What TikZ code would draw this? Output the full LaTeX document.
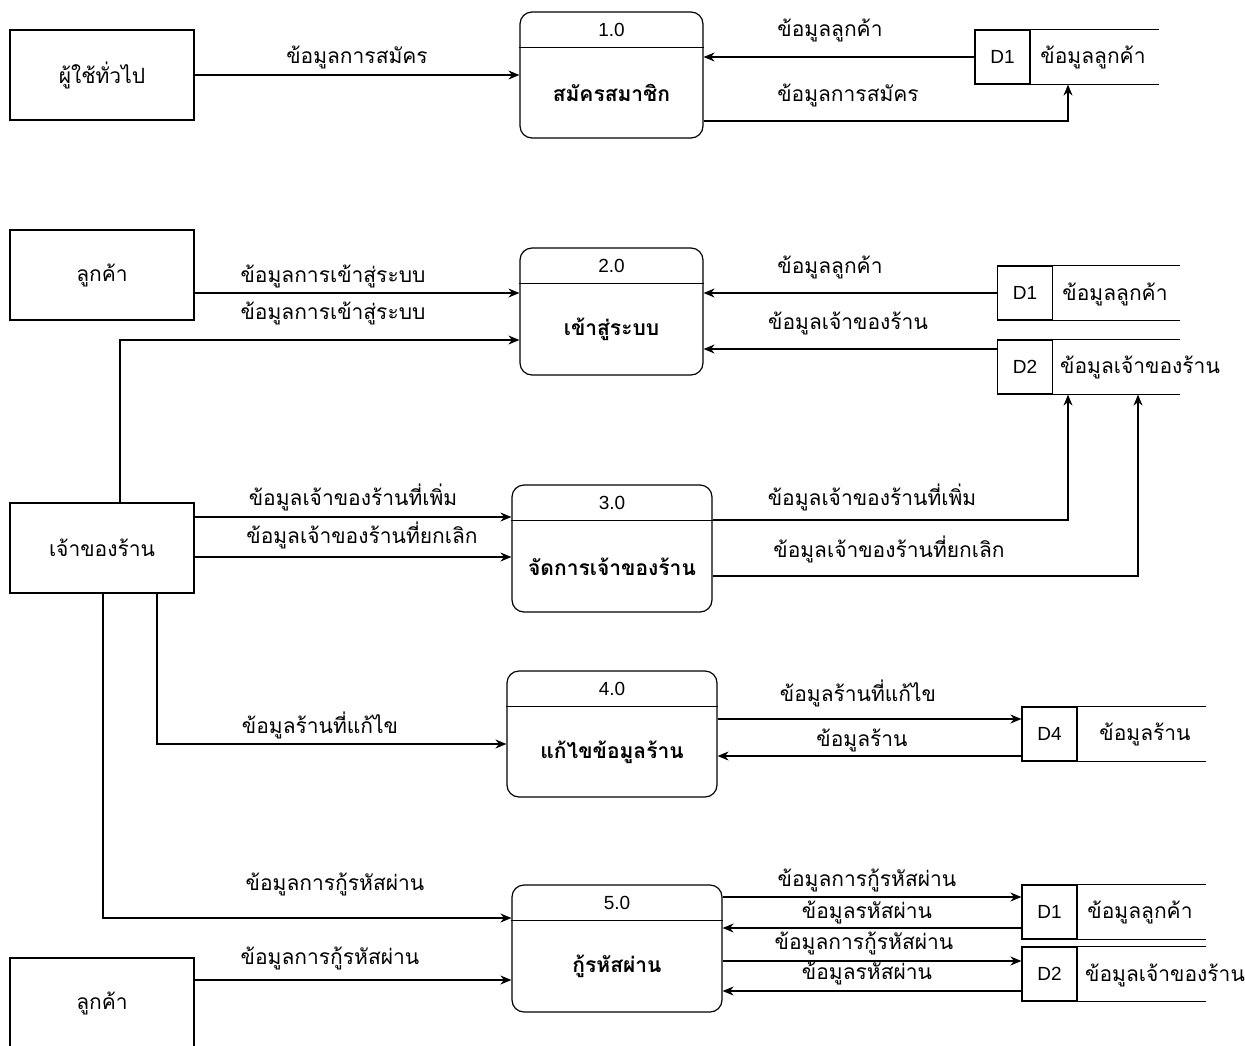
\documentclass[tikz,border=0pt]{standalone}
\usepackage{fontspec}
\setmainfont{Liberation Sans}
\newfontfamily\thai[Script=Thai]{Loma}
\usetikzlibrary{arrows.meta,calc}
\tikzstyle{ent}=[draw, line width=1.2pt, minimum width=184pt, minimum height=90pt, inner sep=0pt, font=\thai\fontsize{21}{24}\selectfont]
\tikzstyle{proc}=[draw, line width=1.2pt, rounded corners=12pt, inner sep=0pt]
\tikzstyle{prochd}=[anchor=north, minimum height=36pt, inner sep=0pt, font=\fontsize{19}{22}\selectfont]
\tikzstyle{procname}=[inner sep=0pt, font=\thai\bfseries\fontsize{21}{24}\selectfont]
\tikzstyle{sid}=[draw, line width=1.2pt, minimum width=55pt, minimum height=54pt, inner sep=0pt, font=\fontsize{19}{22}\selectfont]
\tikzstyle{sname}=[inner sep=0pt, font=\thai\fontsize{21}{24}\selectfont]
\tikzstyle{lbl}=[inner sep=0pt, font=\thai\fontsize{21}{24}\selectfont]
\tikzstyle{flow}=[draw, line width=1.2pt, -{Stealth[length=11pt, width=9pt]}]
\tikzstyle{sline}=[draw, line width=1.2pt]
\newcommand{\extnode}{\node[ent]}
\newcommand{\procnode}{\node[proc]}
\newcommand{\storeid}{\node[sid]}

\begin{document}
\begin{tikzpicture}[x=1pt, y=-1pt]
\useasboundingbox (0,0) rectangle (1245,1045);
% external entities
\extnode (user) at (102,75) {ผู้ใช้ทั่วไป};
\extnode (cust) at (102,275) {ลูกค้า};
\extnode (owner) at (102,548) {เจ้าของร้าน};
\extnode (cust2) at (102,1003) {ลูกค้า};
% processes
\procnode (p1) at (611.5,75) [minimum width=183pt, minimum height=126pt] {};
\procnode (p2) at (611.5,311.5) [minimum width=183pt, minimum height=127pt] {};
\procnode (p3) at (612,548.5) [minimum width=200pt, minimum height=127pt] {};
\procnode (p4) at (612,734) [minimum width=210pt, minimum height=126pt] {};
\procnode (p5) at (617,948.5) [minimum width=210pt, minimum height=127pt] {};
\node[prochd] (p1h) at (p1.north) {1.0};
\node[prochd] (p2h) at (p2.north) {2.0};
\node[prochd] (p3h) at (p3.north) {3.0};
\node[prochd] (p4h) at (p4.north) {4.0};
\node[prochd] (p5h) at (p5.north) {5.0};
\foreach \p in {p1,p2,p3,p4,p5}
  \draw[sline] (\p.west |- \p h.south) -- (\p.east |- \p h.south);
\node[procname] (p1t) at ($(p1h.south)!0.5!(p1.south)$) {สมัครสมาชิก};
\node[procname] (p2t) at ($(p2h.south)!0.5!(p2.south)$) {เข้าสู่ระบบ};
\node[procname] (p3t) at ($(p3h.south)!0.5!(p3.south)$) {จัดการเจ้าของร้าน};
\node[procname] (p4t) at ($(p4h.south)!0.5!(p4.south)$) {แก้ไขข้อมูลร้าน};
\node[procname] (p5t) at ($(p5h.south)!0.5!(p5.south)$) {กู้รหัสผ่าน};
% data stores
\storeid (s1a) at (1002.5,57) {D1};
\storeid (s1b) at (1025,293) {D1};
\storeid (s2b) at (1025,367) {D2};
\storeid (s4) at (1049.5,734) {D4};
\storeid (s1c) at (1049.5,912) {D1};
\storeid (s2c) at (1049.5,974) {D2};
\draw[sline] (s1a.north east) -- ++(128,0) (s1a.south east) -- ++(128,0);
\foreach \s in {s1b,s2b}
  \draw[sline] (\s.north east) -- ++(127,0) (\s.south east) -- ++(127,0);
\foreach \s in {s4,s1c,s2c}
  \draw[sline] (\s.north east) -- ++(128,0) (\s.south east) -- ++(128,0);
\node[sname] (s1at) at (1093,57) {ข้อมูลลูกค้า};
\node[sname] (s1bt) at (1115,294) {ข้อมูลลูกค้า};
\node[sname] (s2bt) at (1140,367) {ข้อมูลเจ้าของร้าน};
\node[sname] (s4t) at (1145,734) {ข้อมูลร้าน};
\node[sname] (s1ct) at (1140,912) {ข้อมูลลูกค้า};
\node[sname] (s2ct) at (1165,975) {ข้อมูลเจ้าของร้าน};
% flows
\path[flow] (user) -- (p1);
\path[flow] (s1a) -- (p1.east |- s1a);
\path[flow] (p1.east |- 0,121) -| (s1a.south -| 1068,0);
\path[flow] (cust.east |- 0,293) -- (p2.west |- 0,293);
\path[flow] (owner.north -| 120,0) |- (p2.west |- 0,340);
\path[flow] (s1b) -- (p2.east |- s1b);
\path[flow] (s2b.west |- 0,349) -- (p2.east |- 0,349);
\path[flow] (owner.east |- 0,517) -- (p3.west |- 0,517);
\path[flow] (owner.east |- 0,557) -- (p3.west |- 0,557);
\path[flow] (p3.east |- 0,520) -| (s2b.south -| 1068,0);
\path[flow] (p3.east |- 0,576) -| (s2b.south -| 1138,0);
\path[flow] (owner.south -| 157,0) |- (p4.west |- 0,744);
\path[flow] (p4.east |- 0,719) -- (s4.west |- 0,719);
\path[flow] (s4.west |- 0,756) -- (p4.east |- 0,756);
\path[flow] (owner.south -| 103,0) |- (p5.west |- 0,918);
\path[flow] (cust2.east |- 0,980) -- (p5.west |- 0,980);
\path[flow] (p5.east |- 0,897) -- (s1c.west |- 0,897);
\path[flow] (s1c.west |- 0,928) -- (p5.east |- 0,928);
\path[flow] (p5.east |- 0,961) -- (s2c.west |- 0,961);
\path[flow] (s2c.west |- 0,991) -- (p5.east |- 0,991);
% flow labels
\node[lbl] (l1) at (357,57) {ข้อมูลการสมัคร};
\node[lbl] (l2) at (830,30) {ข้อมูลลูกค้า};
\node[lbl] (l3) at (848,95) {ข้อมูลการสมัคร};
\node[lbl] (l4) at (333,276) {ข้อมูลการเข้าสู่ระบบ};
\node[lbl] (l5) at (333,313) {ข้อมูลการเข้าสู่ระบบ};
\node[lbl] (l6) at (830,267) {ข้อมูลลูกค้า};
\node[lbl] (l7) at (848,323) {ข้อมูลเจ้าของร้าน};
\node[lbl] (l8) at (353,497) {ข้อมูลเจ้าของร้านที่เพิ่ม};
\node[lbl] (l9) at (362,535) {ข้อมูลเจ้าของร้านที่ยกเลิก};
\node[lbl] (l10) at (872,497) {ข้อมูลเจ้าของร้านที่เพิ่ม};
\node[lbl] (l11) at (889,549) {ข้อมูลเจ้าของร้านที่ยกเลิก};
\node[lbl] (l12) at (320,725) {ข้อมูลร้านที่แก้ไข};
\node[lbl] (l13) at (858,693) {ข้อมูลร้านที่แก้ไข};
\node[lbl] (l14) at (862,740) {ข้อมูลร้าน};
\node[lbl] (l15) at (335,884) {ข้อมูลการกู้รหัสผ่าน};
\node[lbl] (l16) at (330,958) {ข้อมูลการกู้รหัสผ่าน};
\node[lbl] (l17) at (867,880) {ข้อมูลการกู้รหัสผ่าน};
\node[lbl] (l18) at (867,912) {ข้อมูลรหัสผ่าน};
\node[lbl] (l19) at (864,943) {ข้อมูลการกู้รหัสผ่าน};
\node[lbl] (l20) at (867,973) {ข้อมูลรหัสผ่าน};
\end{tikzpicture}
\end{document}
